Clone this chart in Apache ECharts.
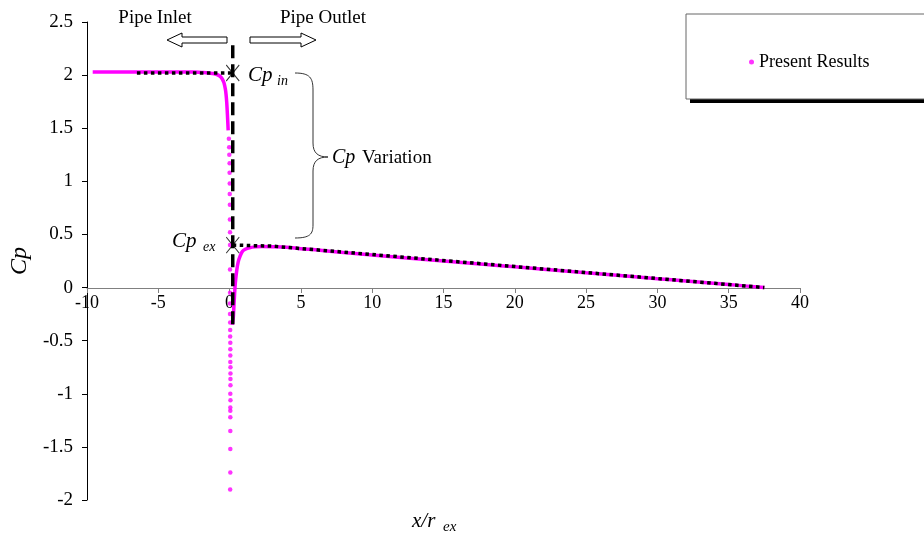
<!DOCTYPE html>
<html>
<head>
<meta charset="utf-8">
<script src="https://cdn.jsdelivr.net/npm/echarts/dist/echarts.min.js"></script>
<style>
  html, body { margin: 0; padding: 0; background: #fff; }
  #main { width: 924px; height: 552px; }
</style>
</head>
<body>
<div id="main"></div>
<script>
// present results - inlet side (dense part)
const inletX  = [-9.6, -9, -8, -7, -6, -5, -4, -3, -2.5, -2, -1.5, -1.2, -1.0, -0.8, -0.6, -0.5, -0.4, -0.3, -0.25, -0.2, -0.15, -0.1];
const inletCp = [2.03, 2.03, 2.03, 2.03, 2.03, 2.03, 2.03, 2.03, 2.03, 2.025, 2.02, 2.015, 2.01, 2.0, 1.98, 1.96, 1.93, 1.87, 1.82, 1.74, 1.62, 1.48];

// present results - sparse points falling along the exit plane
const dropX  = [-0.05, -0.03, -0.02, 0, 0, 0.01, 0.01, 0.02, 0.02, 0.03, 0.03, 0.03, 0.03, 0.03, 0.03, 0.04, 0.04, 0.04, 0.05, 0.05, 0.05, 0.05, 0.06, 0.06, 0.06, 0.06, 0.05, 0.06, 0.05, 0.05, 0.05, 0.05, 0.05, 0.05, 0.04];
const dropCp = [1.40, 1.32, 1.25, 1.17, 1.08, 0.98, 0.88, 0.78, 0.64, 0.52, 0.40, 0.17, -0.05, -0.15, -0.25, -0.33, -0.40, -0.46, -0.52, -0.58, -0.64, -0.70, -0.75, -0.81, -0.86, -0.92, -1.0, -1.06, -1.13, -1.16, -1.22, -1.35, -1.52, -1.74, -1.90];

// present results - outlet side (dense part)
const outletX  = [0.2, 0.26, 0.3, 0.35, 0.4, 0.5, 0.6, 0.75, 0.9, 1.1, 1.4, 1.8, 2.3, 3, 4, 5, 6, 8, 10, 12, 15, 18, 20, 22, 25, 28, 30, 32, 35, 37.5];
const outletCp = [-0.35, -0.28, -0.18, -0.06, 0.04, 0.16, 0.24, 0.30, 0.34, 0.36, 0.375, 0.383, 0.386, 0.385, 0.38, 0.365, 0.355, 0.33, 0.306, 0.284, 0.251, 0.217, 0.195, 0.173, 0.139, 0.106, 0.084, 0.062, 0.028, 0.0];

// reference dotted lines
const inletRefX  = [-6.5, 0.22];
const inletRefCp = [2.02, 2.02];
const outletRefX  = [0.22, 3, 37.5];
const outletRefCp = [0.40, 0.39, 0];

// exit plane (dashed) and Cp_in / Cp_ex marks
const wallX  = [0.22, 0.22];
const wallCp = [2.28, -0.38];
const markX  = [0.22, 0.22];
const markCp = [2.02, 0.40];

const zip = (a, b) => a.map((v, i) => [v, b[i]]);
const serif = '"Liberation Serif", "Times New Roman", serif';

const chart = echarts.init(document.getElementById('main'), null, { renderer: 'canvas' });

const braceStyle = { fill: 'none', stroke: '#333', lineWidth: 1 };

// grid: top 22 (Cp 2.5) .. 500 (Cp -2); Cp 0 sits 212px above the bottom
chart.setOption({
  animation: false,
  backgroundColor: '#fff',
  grid: { left: 87, right: 124, top: 22, bottom: 52, containLabel: false, outerBoundsMode: 'none' },
  legend: {
    data: [{ name: 'Present Results', icon: 'circle' }],
    left: 744, top: 48,
    itemWidth: 5, itemHeight: 5, itemGap: 6,
    textStyle: { fontFamily: serif, fontSize: 18, color: '#000' }
  },
  xAxis: {
    type: 'value', min: -10, max: 40, interval: 5,
    position: 'bottom', offset: -212,
    axisLine: { onZero: false, lineStyle: { color: '#808080', width: 1 } },
    axisTick: { show: true, length: 5, lineStyle: { color: '#808080' } },
    axisLabel: { color: '#000', fontFamily: serif, fontSize: 18, margin: 6 },
    splitLine: { show: false }
  },
  yAxis: {
    type: 'value', min: -2, max: 2.5, interval: 0.5,
    name: 'Cp', nameLocation: 'middle', nameGap: 51, nameRotate: 90,
    nameTextStyle: { fontFamily: serif, fontSize: 24, fontStyle: 'italic', color: '#000' },
    axisLine: { show: true, onZero: false, lineStyle: { color: '#000', width: 1 } },
    axisTick: { show: true, length: 5, lineStyle: { color: '#000' } },
    axisLabel: { color: '#000', fontFamily: serif, fontSize: 19, margin: 14 },
    splitLine: { show: false }
  },
  series: [
    {
      name: 'Present Results', type: 'scatter', data: zip(dropX, dropCp),
      symbol: 'circle', symbolSize: 4.5,
      itemStyle: { color: '#ff00ff' }, z: 2
    },
    {
      name: 'Present Results', type: 'line', data: zip(inletX, inletCp),
      showSymbol: false, smooth: 0.3,
      lineStyle: { color: '#ff00ff', width: 3.5 }, itemStyle: { color: '#ff00ff' }, z: 2
    },
    {
      name: 'Present Results', type: 'line', data: zip(outletX, outletCp),
      showSymbol: false, smooth: 0.3,
      lineStyle: { color: '#ff00ff', width: 3.5 }, itemStyle: { color: '#ff00ff' }, z: 2
    },
    {
      name: 'inletRef', type: 'line', data: zip(inletRefX, inletRefCp),
      showSymbol: false,
      lineStyle: { color: '#000', width: 3.5, type: [3.5, 3.5] }, z: 3
    },
    {
      name: 'outletRef', type: 'line', data: zip(outletRefX, outletRefCp),
      showSymbol: false,
      lineStyle: { color: '#000', width: 3.5, type: [3.5, 3.5] }, z: 3
    },
    {
      name: 'wall', type: 'line', data: zip(wallX, wallCp),
      showSymbol: false,
      lineStyle: { color: '#000', width: 3.5, type: [13, 6] }, z: 4
    },
    {
      name: 'marks', type: 'scatter', data: zip(markX, markCp),
      symbol: 'path://M0,0L10,12M10,0L0,12', symbolSize: [13, 16],
      itemStyle: { color: 'none', borderColor: '#000', borderWidth: 1 }, z: 5
    }
  ],
  graphic: [
    // legend box with shadow
    { type: 'rect', shape: { x: 690, y: 18, width: 260, height: 85 }, style: { fill: '#000' }, z: 0 },
    { type: 'rect', shape: { x: 686, y: 14, width: 260, height: 85 }, style: { fill: '#fff', stroke: '#666', lineWidth: 1 }, z: 1 },
    // pipe inlet / outlet
    { type: 'text', x: 155, y: 18, style: { text: 'Pipe Inlet', font: '19px ' + serif, fill: '#000', textAlign: 'center', textVerticalAlign: 'middle' } },
    { type: 'text', x: 323, y: 18, style: { text: 'Pipe Outlet', font: '19px ' + serif, fill: '#000', textAlign: 'center', textVerticalAlign: 'middle' } },
    { type: 'polygon', shape: { points: [[167, 40], [182, 33], [182, 37], [227, 37], [227, 43], [182, 43], [182, 47]] },
      style: { fill: '#fff', stroke: '#000', lineWidth: 1 } },
    { type: 'polygon', shape: { points: [[316, 40], [301, 33], [301, 37], [250, 37], [250, 43], [301, 43], [301, 47]] },
      style: { fill: '#fff', stroke: '#000', lineWidth: 1 } },
    // Cp_in, Cp_ex labels
    { type: 'text', x: 248, y: 75, style: { text: 'Cp', font: 'italic 21px ' + serif, fill: '#000', textVerticalAlign: 'middle' } },
    { type: 'text', x: 277, y: 81, style: { text: 'in', font: 'italic 14px ' + serif, fill: '#000', textVerticalAlign: 'middle' } },
    { type: 'text', x: 172, y: 241, style: { text: 'Cp', font: 'italic 21px ' + serif, fill: '#000', textVerticalAlign: 'middle' } },
    { type: 'text', x: 203, y: 247, style: { text: 'ex', font: 'italic 14px ' + serif, fill: '#000', textVerticalAlign: 'middle' } },
    // brace
    { type: 'bezierCurve', shape: { x1: 295, y1: 73, cpx1: 310, cpy1: 73, cpx2: 313, cpy2: 78, x2: 313, y2: 90 }, style: braceStyle },
    { type: 'line', shape: { x1: 313, y1: 90, x2: 313, y2: 143 }, style: braceStyle },
    { type: 'bezierCurve', shape: { x1: 313, y1: 143, cpx1: 313, cpy1: 153, cpx2: 318, cpy2: 157, x2: 328, y2: 157 }, style: braceStyle },
    { type: 'bezierCurve', shape: { x1: 328, y1: 157, cpx1: 318, cpy1: 157, cpx2: 313, cpy2: 161, x2: 313, y2: 171 }, style: braceStyle },
    { type: 'line', shape: { x1: 313, y1: 171, x2: 313, y2: 225 }, style: braceStyle },
    { type: 'bezierCurve', shape: { x1: 313, y1: 225, cpx1: 313, cpy1: 234, cpx2: 310, cpy2: 238, x2: 295, y2: 238 }, style: braceStyle },
    // Cp Variation
    { type: 'text', x: 332, y: 158, style: { text: 'Cp', font: 'italic 20px ' + serif, fill: '#000', textVerticalAlign: 'middle' } },
    { type: 'text', x: 362, y: 158, style: { text: 'Variation', font: '19px ' + serif, fill: '#000', textVerticalAlign: 'middle' } },
    // x axis title
    { type: 'text', x: 412, y: 521, style: { text: 'x/r', font: 'italic 21px ' + serif, fill: '#000', textVerticalAlign: 'middle' } },
    { type: 'text', x: 443, y: 527, style: { text: 'ex', font: 'italic 15px ' + serif, fill: '#000', textVerticalAlign: 'middle' } }
  ]
});
</script>
</body>
</html>
